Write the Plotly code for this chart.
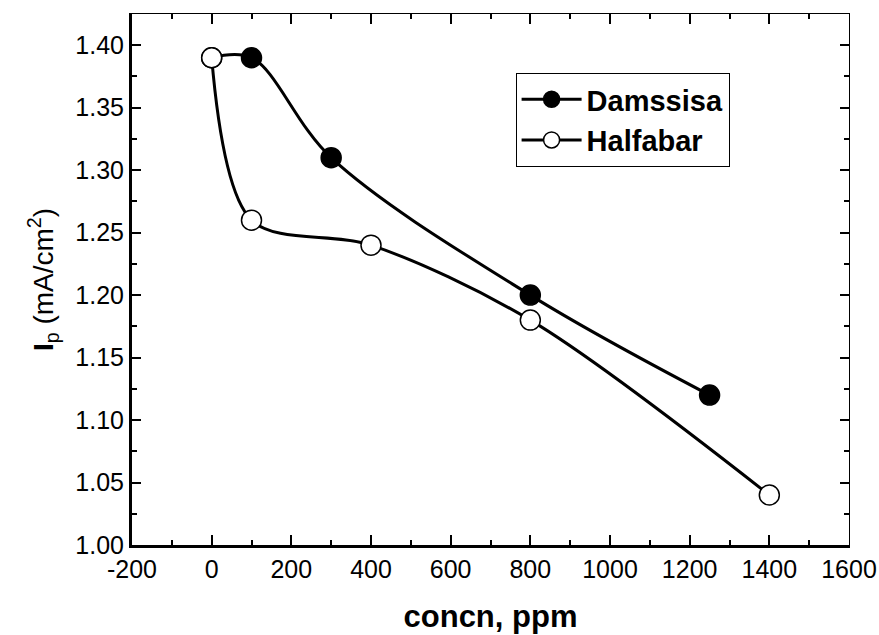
import plotly.graph_objects as go

# Data
dam_x = [0, 100, 300, 800, 1250]
dam_y = [1.39, 1.39, 1.31, 1.20, 1.12]
hal_x = [0, 100, 400, 800, 1400]
hal_y = [1.39, 1.26, 1.24, 1.18, 1.04]

x_ticks = [-200, 0, 200, 400, 600, 800, 1000, 1200, 1400, 1600]
x_tick_text = ["-200", "0", "200", "400", "600", "800", "1000", "1200", "1400", "1600"]

FONT = "Arial, Liberation Sans, sans-serif"

fig = go.Figure()
fig.add_trace(go.Scatter(
    x=dam_x, y=dam_y, name="Damssisa", mode="lines+markers",
    line=dict(color="black", width=3, shape="spline", smoothing=1.0),
    marker=dict(symbol="circle", size=20, color="black", line=dict(color="black", width=1.5)),
))
fig.add_trace(go.Scatter(
    x=hal_x, y=hal_y, name="Halfabar", mode="lines+markers",
    line=dict(color="black", width=3, shape="spline", smoothing=0.9),
    marker=dict(symbol="circle", size=20, color="white", line=dict(color="black", width=1.5)),
))
# invisible trace to activate mirrored (top/right) thin axes
fig.add_trace(go.Scatter(x=[dam_x[0]], y=[dam_y[0]], xaxis="x2", yaxis="y2",
                         mode="markers", marker=dict(opacity=0), showlegend=False,
                         hoverinfo="skip"))

xr = [-200, 1600]
yr = [1.0, 1.425]

fig.update_layout(
    width=879, height=635,
    margin=dict(l=132, r=30, t=14, b=90),
    paper_bgcolor="white", plot_bgcolor="white",
    font=dict(family=FONT, color="black", size=25),
    showlegend=True,
    legend=dict(
        x=0.535, y=0.889, xanchor="left", yanchor="top",
        bordercolor="black", borderwidth=1, bgcolor="white",
        font=dict(family=FONT, size=29, color="black", weight="bold"),
        itemwidth=60, tracegroupgap=0,
    ),
    xaxis=dict(
        range=xr, tickmode="array", tickvals=x_ticks, ticktext=x_tick_text,
        showgrid=False, zeroline=False, automargin=False,
        showline=True, linecolor="black", linewidth=3,
        ticks="inside", ticklen=10, tickwidth=2, tickcolor="black",
        minor=dict(ticks="inside", ticklen=5, tickwidth=2, dtick=100, tick0=0, tickcolor="black", showgrid=False),
        tickfont=dict(size=25),
        title=dict(text="<b>concn, ppm</b>", font=dict(size=31), standoff=24),
    ),
    yaxis=dict(
        range=yr, dtick=0.05, tick0=1.0, tickformat=".2f", showgrid=False, zeroline=False,
        automargin=False,
        showline=True, linecolor="black", linewidth=3,
        ticks="inside", ticklen=9, tickwidth=2, tickcolor="black",
        minor=dict(ticks="inside", ticklen=5, tickwidth=2, dtick=0.025, tick0=1.0, tickcolor="black", showgrid=False),
        tickfont=dict(size=25),
        title=dict(text="<b>I</b><sub>p</sub> (mA/cm<sup>2</sup>)", font=dict(size=28), standoff=14),
    ),
    xaxis2=dict(
        range=xr, overlaying="x", side="top", dtick=200, tick0=0, showgrid=False, zeroline=False,
        showline=True, linecolor="black", linewidth=1, showticklabels=False, automargin=False,
        ticks="inside", ticklen=10, tickwidth=2, tickcolor="black",
        minor=dict(ticks="inside", ticklen=5, tickwidth=2, dtick=100, tick0=0, tickcolor="black", showgrid=False),
    ),
    yaxis2=dict(
        range=yr, overlaying="y", side="right", dtick=0.05, tick0=1.0, showgrid=False, zeroline=False,
        showline=True, linecolor="black", linewidth=1, showticklabels=False, automargin=False,
        ticks="inside", ticklen=9, tickwidth=2, tickcolor="black",
        minor=dict(ticks="inside", ticklen=5, tickwidth=2, dtick=0.025, tick0=1.0, tickcolor="black", showgrid=False),
    ),
)

fig.write_html("out.html")
